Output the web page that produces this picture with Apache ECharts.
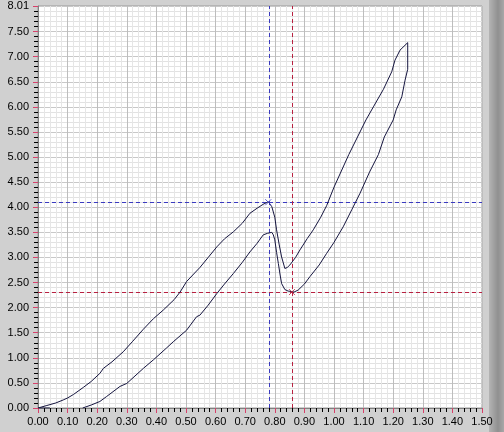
<!DOCTYPE html>
<html>
<head>
<meta charset="utf-8">
<script src="https://cdn.jsdelivr.net/npm/echarts@6/dist/echarts.min.js"></script>
<style>
html,body{margin:0;padding:0;background:#d0d0d0;}
#c{width:504px;height:432px;}
</style>
</head>
<body>
<div id="c"></div>
<script>
// Rising branch (from origin up to the peak, dip, and top at x≈1.25)
var riseX = [0.04,0,0.03,0.06,0.085,0.10,0.12,0.153,0.18,0.209,0.221,0.25,0.288,0.32,0.356,0.39,0.423,0.46,0.48,0.502,0.547,0.575,0.604,0.63,0.66,0.69,0.716,0.74,0.761,0.778,0.79,0.80,0.806,0.815,0.823,0.834,0.842,0.851,0.87,0.885,0.91,0.93,0.955,0.975,1.0,1.05,1.108,1.133,1.167,1.195,1.206,1.223,1.249];
var riseY = [0,0,0.05,0.10,0.16,0.20,0.27,0.41,0.53,0.69,0.79,0.92,1.12,1.33,1.57,1.78,1.95,2.16,2.31,2.52,2.80,3.00,3.21,3.37,3.51,3.68,3.88,3.98,4.06,4.11,4.01,3.80,3.55,3.25,3.01,2.78,2.80,2.85,3.00,3.15,3.38,3.55,3.80,4.03,4.40,5.05,5.74,6.00,6.35,6.70,6.93,7.13,7.28];
// Returning branch (from the top back down to zero at x≈0.15)
var fallX = [1.249,1.249,1.24,1.229,1.21,1.2,1.17,1.15,1.12,1.088,1.06,1.031,1.0,0.975,0.95,0.919,0.9,0.879,0.865,0.857,0.845,0.834,0.823,0.818,0.812,0.806,0.80,0.795,0.79,0.775,0.761,0.74,0.716,0.69,0.66,0.63,0.604,0.575,0.547,0.536,0.502,0.457,0.435,0.39,0.356,0.3,0.277,0.232,0.209,0.18,0.151];
var fallY = [7.28,6.75,6.53,6.20,5.94,5.74,5.40,5.05,4.70,4.28,3.95,3.61,3.30,3.08,2.85,2.62,2.47,2.35,2.31,2.32,2.33,2.36,2.48,2.65,2.88,3.10,3.35,3.45,3.50,3.48,3.45,3.28,3.11,2.90,2.68,2.47,2.28,2.05,1.85,1.82,1.55,1.32,1.20,0.96,0.79,0.49,0.43,0.23,0.13,0.06,0];
// Cursors
var cursorBlue = [0.778, 4.10];
var cursorRed = [0.858, 2.31];
// Tick labels
var xTickValues = [0,0.1,0.2,0.3,0.4,0.5,0.6,0.7,0.8,0.9,1.0,1.1,1.2,1.3,1.4,1.5];
var yTickValues = [0,0.5,1,1.5,2,2.5,3,3.5,4,4.5,5,5.5,6,6.5,7,7.5,8.01];

function zip(a,b){var r=[];for(var i=0;i<a.length;i++)r.push([a[i],b[i]]);return r;}

var chart = echarts.init(document.getElementById('c'), null, {renderer:'canvas'});
var font = {fontFamily:'Liberation Sans', fontSize:11, color:'#000'};
var lineColor = '#15153f';
var blue = '#3a3ac0';
var red = '#b82040';
var option = {
  backgroundColor:'#d0d0d0',
  animation:false,
  graphic:[
    {type:'rect', shape:{x:489,y:0,width:15,height:432}, z:-1,
     style:{fill:{type:'linear',x:0,y:0,x2:1,y2:0,colorStops:[{offset:0,color:'#b4b4b4'},{offset:0.6,color:'#909090'},{offset:1,color:'#a8a8a8'}]}}}
  ],
  grid:{left:38,right:22,top:6,bottom:24,show:true,backgroundColor:'#ffffff',borderColor:'#9a9a9a',borderWidth:1},
  xAxis:[
    {type:'value',min:0,max:1.5,interval:0.02,position:'bottom',
     axisLine:{show:true,onZero:false,lineStyle:{color:'#808080'}},
     axisTick:{show:true,length:4,lineStyle:{color:'#000'}},
     axisLabel:{show:false},
     splitLine:{show:true,lineStyle:{color:'#e6e6e6',width:1}}},
    {type:'value',min:0,max:1.5,interval:0.1,position:'bottom',
     axisLine:{show:false,onZero:false},
     axisTick:{show:true,length:5,lineStyle:{color:'#d8406a'},customValues:xTickValues},
     axisLabel:Object.assign({show:true,margin:8,customValues:xTickValues,formatter:function(v){return v.toFixed(2);}},font),
     splitLine:{show:true,lineStyle:{color:'#bdbdbd',width:1}}}
  ],
  yAxis:[
    {type:'value',min:0,max:8.01,interval:0.1,position:'left',
     axisLine:{show:true,onZero:false,lineStyle:{color:'#808080'}},
     axisTick:{show:true,length:4,lineStyle:{color:'#000'}},
     axisLabel:{show:false},
     splitLine:{show:true,lineStyle:{color:'#e2e2e2',width:1}}},
    {type:'value',min:0,max:8.01,interval:0.5,position:'left',
     axisLine:{show:false,onZero:false},
     axisTick:{show:true,length:5,lineStyle:{color:'#d8406a'},customValues:yTickValues},
     axisLabel:Object.assign({show:true,margin:9,customValues:yTickValues,formatter:function(v){return v.toFixed(2);}},font),
     splitLine:{show:true,lineStyle:{color:'#c8c8c8',width:1}}}
  ],
  series:[
    {type:'line',xAxisIndex:0,yAxisIndex:0,data:zip(riseX,riseY),showSymbol:false,smooth:false,
     lineStyle:{color:lineColor,width:1},z:5,
     markLine:{silent:true,symbol:'none',label:{show:false},
       lineStyle:{color:blue,type:[4,3],width:1},
       data:[{xAxis:cursorBlue[0]},{yAxis:cursorBlue[1]}]}},
    {type:'line',xAxisIndex:0,yAxisIndex:0,data:zip(fallX,fallY),showSymbol:false,smooth:false,
     lineStyle:{color:lineColor,width:1},z:5,
     markLine:{silent:true,symbol:'none',label:{show:false},
       lineStyle:{color:red,type:[4,3],width:1},
       data:[{xAxis:cursorRed[0]},{yAxis:cursorRed[1]}]}},
    {type:'scatter',xAxisIndex:0,yAxisIndex:0,data:[cursorBlue],symbol:'path://M0,0L10,10M10,0L0,10',symbolSize:6,
     itemStyle:{color:'none',borderColor:blue,borderWidth:1},z:6},
    {type:'scatter',xAxisIndex:0,yAxisIndex:0,data:[cursorRed],symbol:'path://M0,0L10,10M10,0L0,10',symbolSize:6,
     itemStyle:{color:'none',borderColor:red,borderWidth:1},z:6}
  ]
};
chart.setOption(option);
</script>
</body>
</html>
